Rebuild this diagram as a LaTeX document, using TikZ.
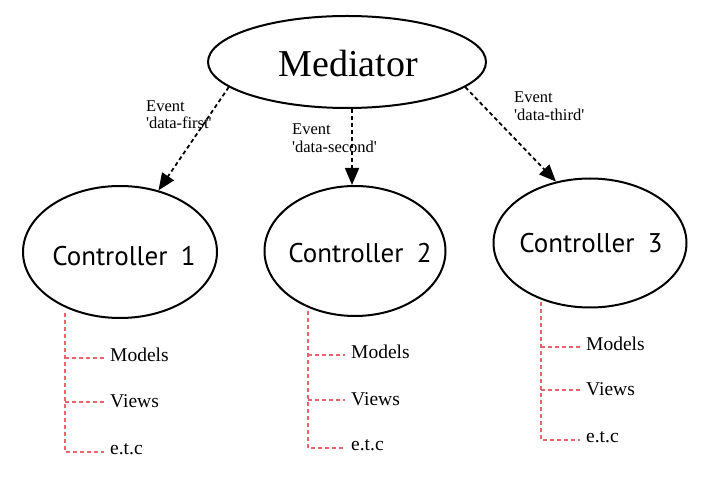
\documentclass[tikz,border=0pt]{standalone}
\usepackage{fontspec}
\setmainfont{Liberation Serif}
\newfontfamily\ctrlfont{PT Sans}
\usetikzlibrary{shapes.geometric,arrows.meta}
\definecolor{treered}{RGB}{232,100,110}
\tikzset{
  ell/.style={draw, line width=2pt, ellipse, inner sep=0pt},
  evarrow/.style={line width=1.8pt, dash pattern=on 4pt off 3pt, -{Triangle[length=17pt,width=14pt]}},
  treeline/.style={treered, line width=1.3pt, dash pattern=on 4pt off 3pt},
  leaf/.style={anchor=west, font=\fontsize{19.5}{21}\selectfont, inner sep=0pt},
  evlabel/.style={anchor=north west, align=left, font=\fontsize{16.5}{17.5}\selectfont, inner sep=0pt},
  ctrl/.style={font=\ctrlfont\fontsize{27}{30}\selectfont}
}
\begin{document}
\begin{tikzpicture}[x=1pt,y=-1pt]
\useasboundingbox (0,0) rectangle (702,502);
% ellipses
\node[ell, minimum width=278pt, minimum height=92pt] (med) at (347,62) {};
\node[font=\fontsize{38}{42}\selectfont] (medt) at (348,64) {Mediator};
\node[ell, minimum width=194pt, minimum height=132pt] (c1) at (120,252) {};
\node[ell, minimum width=181pt, minimum height=130pt] (c2) at (355,251) {};
\node[ell, minimum width=193pt, minimum height=129pt] (c3) at (590,243) {};
\node[ctrl] (c1t) at (124,256) {Controller\,\,\,1};
\node[ctrl] (c2t) at (360,253) {Controller\,\,\,2};
\node[ctrl] (c3t) at (591,243) {Controller\,\,\,3};
% arrows
\draw[evarrow] (med.{192}) -- (c1.{58});
\draw[evarrow] (med.south) ++(5,0) coordinate (s2) -- (s2 |- c2.north);
\draw[evarrow] (med.{-12}) -- (c3.{119});
% event labels
\node[evlabel] (e1) at (146,100) {Event\\\textquotesingle data-first\textquotesingle};
\node[evlabel] (e2) at (292,124) {Event\\\textquotesingle data-second\textquotesingle};
\node[evlabel] (e3) at (514,92) {Event\\\textquotesingle data-third\textquotesingle};
% trees
\foreach \c/\x/\ytop/\ya/\yb/\yc/\xe in {1/65/313/358/402/452/104, 2/308/311/355/400/448/345, 3/541/302/347/390/440/580}{
  \coordinate (t\c top) at (\x,\ytop);
  \coordinate (t\c a) at (\x,\ya);
  \coordinate (t\c b) at (\x,\yb);
  \coordinate (t\c c) at (\x,\yc);
  \coordinate (t\c ea) at (\xe,\ya);
  \coordinate (t\c eb) at (\xe,\yb);
  \coordinate (t\c ec) at (\xe,\yc);
  \node[leaf] (m\c) at (\xe+6,\ya-3) {Models};
  \node[leaf] (v\c) at (\xe+6,\yb-1) {Views};
  \node[leaf] (x\c) at (\xe+6,\yc-3) {e.t.c};
  \draw[treeline] (t\c top) -- (t\c c) -- (t\c ec);
  \draw[treeline] (t\c a) -- (t\c ea);
  \draw[treeline] (t\c b) -- (t\c eb);
}
\end{tikzpicture}
\end{document}
